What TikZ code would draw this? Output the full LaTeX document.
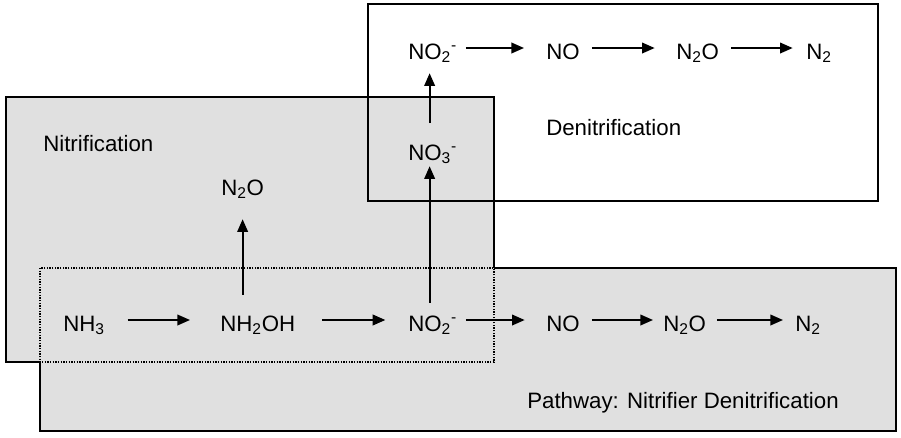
\documentclass[tikz,border=0pt]{standalone}
\usepackage{fontspec}
\setmainfont{Liberation Sans}
\usetikzlibrary{arrows.meta}
\definecolor{boxgray}{RGB}{224,224,224}
\tikzset{
	chem/.style={inner sep=0pt, text height=16.5pt, text depth=0pt, anchor=west, font=\fontsize{16.7}{20}\selectfont},
	lbl/.style={inner sep=0pt, anchor=base west, font=\fontsize{16.7}{20}\selectfont},
	reac/.style={-{Triangle[length=9.5pt,width=8pt]}, line width=1.3pt},
	gap/.style 2 args={shorten <=#1, shorten >=#2},
	frame/.style={line width=1pt},
}
\begin{document}
\begin{tikzpicture}[x=0.75pt,y=0.75pt,yscale=-1,xscale=1]
			\useasboundingbox (0,0) rectangle (901,437);
			
			%Boxes
			\draw [frame, fill=boxgray] (40,268) rectangle (896,431);
			\fill [boxgray] (6,97) rectangle (494,362);
			\draw [frame] (40,362) -- (6,362) -- (6,97) -- (494,97) -- (494,268);
			\draw [line width=0.8pt, dash pattern=on 1pt off 1pt] (40,268) rectangle (494,362);
			\draw [frame] (368,4) rectangle (878,201);
			
			% Text Node
			\node [lbl] (nitr) at (43,151) {Nitrification};
			% Text Node
			\node [lbl] (denitr) at (546,135) {Denitrification};
			% Text Node
			\node [lbl] (ndpath) at (527,408) {Pathway: Nitrifier Denitrification};
			
			% Bottom row
			\node [chem] (nh3) at (63,320) {NH\textsubscript{3}};
			\node [chem] (nh2oh) at (220,320) {NH\textsubscript{2}OH};
			\node [chem] (no2) at (408,320) {NO\textsubscript{2}\rlap{\textsuperscript{-}}};
			\node [chem] (no) at (546,320) {NO};
			\node [chem] (n2ob) at (663,320) {N\textsubscript{2}O};
			\node [chem] (n2b) at (795,320) {N\textsubscript{2}};
			% Middle
			\node [chem] (n2o) at (221,184) {N\textsubscript{2}O};
			\node [chem] (no3) at (408,149) {NO\textsubscript{3}\rlap{\textsuperscript{-}}};
			% Top row
			\node [chem] (no2t) at (408,48) {NO\textsubscript{2}\rlap{\textsuperscript{-}}};
			\node [chem] (not) at (546,48) {NO};
			\node [chem] (n2ot) at (676,48) {N\textsubscript{2}O};
			\node [chem] (n2t) at (806,48) {N\textsubscript{2}};
			
			%Straight Lines
			\draw [reac, gap={17pt}{22.5pt}] (nh3) -- (nh2oh);
			\draw [reac, gap={20pt}{17pt}] (nh2oh) -- (no2);
			\draw [reac, gap={11pt}{16pt}] (no2) -- (no);
			\draw [reac, gap={9pt}{7.5pt}] (no) -- (n2ob);
			\draw [reac, gap={8pt}{9pt}] (n2ob) -- (n2b);
			
			\draw [reac, gap={10.5pt}{18pt}] (nh2oh.north -| n2o) -- (n2o);
			\draw [reac, gap={4.5pt}{4.5pt}] (no2) -- (no3);
			\draw [reac, gap={11pt}{10.5pt}] (no3) -- (no2t);
			
			\draw [reac, gap={11pt}{16.5pt}] (no2t) -- (not);
			\draw [reac, gap={9pt}{16pt}] (not) -- (n2ot);
			\draw [reac, gap={9pt}{10pt}] (n2ot) -- (n2t);
			
		\end{tikzpicture}
\end{document}
